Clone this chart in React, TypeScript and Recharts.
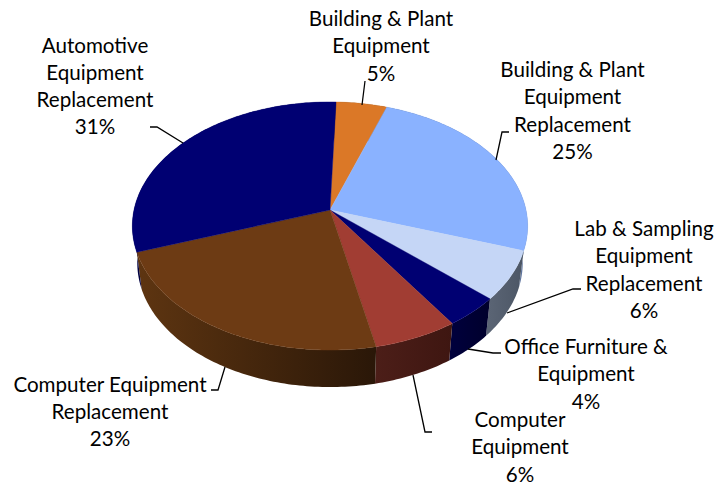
import React from 'react';
import { PieChart, Pie } from 'recharts';

const categories = [
  'Building & Plant Equipment',
  'Building & Plant Equipment Replacement',
  'Lab & Sampling Equipment Replacement',
  'Office Furniture & Equipment',
  'Computer Equipment',
  'Computer Equipment Replacement',
  'Automotive Equipment Replacement',
];
const shares = [4.7, 24.9, 6.4, 4.0, 6.1, 22.9, 30.9];
const topColors = ['#DB7827', '#8AB2FF', '#C5D6F6', '#000072', '#A13D33', '#6D3B14', '#000072'];
const wallFrom = ['#6e3c13', '#465a80', '#5a6474', '#00003c', '#4c1e18', '#5e3511', '#00003f'];
const wallTo = ['#6e3c13', '#5f759f', '#4c5665', '#00002c', '#3e1611', '#2a1708', '#000050'];

// label wrapping and leader lines, by slice
const labelLines = [
  ['Building & Plant', 'Equipment'],
  ['Building & Plant', 'Equipment', 'Replacement'],
  ['Lab & Sampling', 'Equipment', 'Replacement'],
  ['Office Furniture &', 'Equipment'],
  ['Computer', 'Equipment'],
  ['Computer Equipment', 'Replacement'],
  ['Automotive', 'Equipment', 'Replacement'],
];
const labelAnchors = [
  [381, 26], [572.5, 77], [644, 236], [586, 354], [520, 427], [110, 391.5], [95, 52.5],
];
const leaders = [
  '365,81 362,105',
  '496,160 502,132 509,132',
  '507,313 573,289 581,289',
  '468,349 493,353 501,353',
  '413,375 425,432 432,432',
  '225,367 218,390 211,390',
  '150,127 157,127 183,143',
];

const WIDTH = 716;
const HEIGHT = 483;
const CX = 330;
const CY = 210;
const RADIUS = 196;
const SQUASH = 122;
const KEYSTONE = 0.129;
const DEPTH = 37;
const BASE_SCALE = 0.975;
const LINE_HEIGHT = 27.3;

// tilted disc: polar angle from the Pie -> screen point
const project = (cx: number, cy: number, r: number, deg: number) => {
  const a = (deg * Math.PI) / 180;
  const X = Math.cos(a);
  const Y = -Math.sin(a);
  const d = 1 - KEYSTONE * Y;
  return [cx + (r * X) / d, cy + (SQUASH * Y) / d];
};

const arcPoints = (p: any) => {
  const pts: number[][] = [];
  const n = Math.max(2, Math.ceil(Math.abs(p.endAngle - p.startAngle)));
  for (let i = 0; i <= n; i++) {
    const deg = p.startAngle + ((p.endAngle - p.startAngle) * i) / n;
    pts.push(project(p.cx, p.cy, p.outerRadius, deg));
  }
  return pts;
};

const toPath = (pts: number[][]) =>
  pts.map((q, i) => `${i ? 'L' : 'M'}${q[0].toFixed(2)},${q[1].toFixed(2)}`).join(' ') + ' Z';

const TopSlice = (p: any) => (
  <path d={toPath([[p.cx, p.cy], ...arcPoints(p)])} fill={topColors[p.index]} stroke={topColors[p.index]} strokeWidth={0.4} />
);

const WallSlice = (p: any) => {
  const top = arcPoints(p);
  const base = top.map((q) => [p.cx + (q[0] - p.cx) * BASE_SCALE, q[1] + DEPTH]).reverse();
  const xs = top.map((q) => q[0]);
  const id = `wall-${p.index}`;
  return (
    <g>
      <defs>
        <linearGradient id={id} gradientUnits="userSpaceOnUse" x1={Math.min(...xs)} x2={Math.max(...xs)} y1={0} y2={0}>
          <stop offset="0" stopColor={wallFrom[p.index]} />
          <stop offset="1" stopColor={wallTo[p.index]} />
        </linearGradient>
      </defs>
      <path d={toPath([...top, ...base])} fill={`url(#${id})`} />
    </g>
  );
};

const SliceLabel = (p: any) => {
  const [x, y] = labelAnchors[p.index];
  const lines = [...labelLines[p.index], `${Math.round(shares[p.index])}%`];
  return (
    <g>
      <polyline points={leaders[p.index]} fill="none" stroke="#000" strokeWidth={1.3} />
      <text x={x} y={y} textAnchor="middle" fontFamily="Lato, sans-serif" fontSize={20.6} fill="#000">
        {lines.map((t, i) => (
          <tspan key={i} x={x} y={y + i * LINE_HEIGHT}>{t}</tspan>
        ))}
      </text>
    </g>
  );
};

const data = categories.map((name, i) => ({ name, value: shares[i] }));

export default function App() {
  return (
    <div style={{ position: 'absolute', left: 0, top: 0, background: '#fff' }}>
      <PieChart width={WIDTH} height={HEIGHT} margin={{ top: 0, right: 0, bottom: 0, left: 0 }}>
        <Pie
          data={data}
          dataKey="value"
          cx={CX}
          cy={CY}
          outerRadius={RADIUS}
          startAngle={88}
          endAngle={-272}
          stroke="none"
          shape={WallSlice}
          isAnimationActive={false}
        />
        <Pie
          data={data}
          dataKey="value"
          cx={CX}
          cy={CY}
          outerRadius={RADIUS}
          startAngle={88}
          endAngle={-272}
          stroke="none"
          shape={TopSlice}
          label={SliceLabel}
          labelLine={false}
          isAnimationActive={false}
        />
      </PieChart>
    </div>
  );
}
